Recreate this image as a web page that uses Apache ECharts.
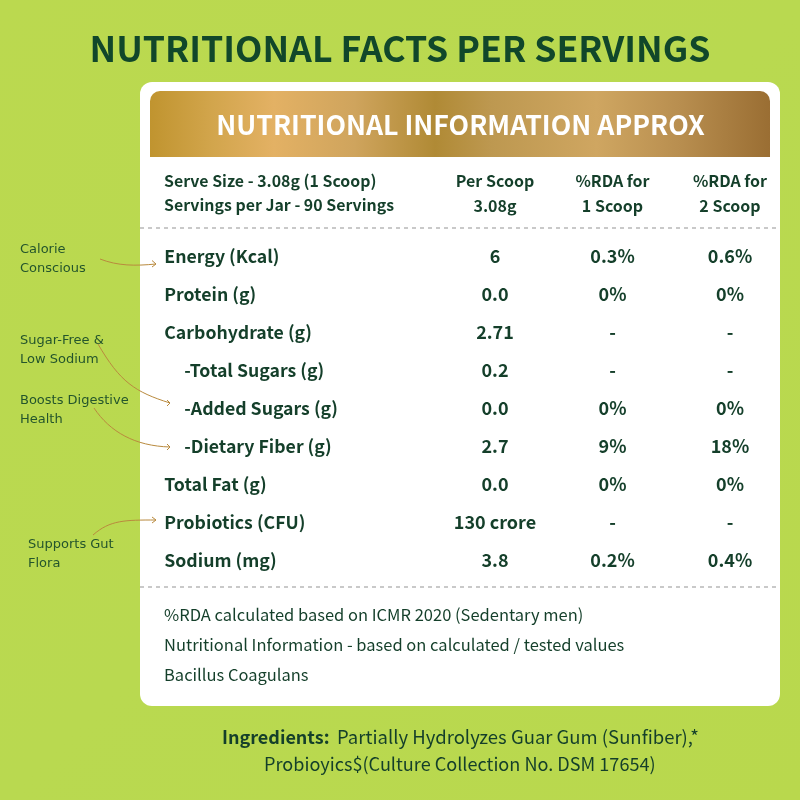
<!DOCTYPE html>
<html><head><meta charset="utf-8">
<style>html,body{margin:0;padding:0;background:#bbd94f}#c{width:800px;height:800px}</style>
<script src="https://cdn.jsdelivr.net/npm/echarts@6/dist/echarts.min.js"></script>
</head><body><div id="c"></div>
<script>
const FONT = '"Noto Sans CJK SC","Noto Sans",sans-serif';
const HAND = '"DejaVu Sans","Noto Sans",sans-serif';
const DARK = '#143f2a';

const titleText = 'NUTRITIONAL FACTS PER SERVINGS';
const bannerText = 'NUTRITIONAL INFORMATION APPROX';
const headerLeft = ['Serve Size - 3.08g (1 Scoop)', 'Servings per Jar - 90 Servings'];
const columns = ['Per Scoop\n3.08g', '%RDA for\n1 Scoop', '%RDA for\n2 Scoop'];
const rows = ['Energy (Kcal)', 'Protein (g)', 'Carbohydrate (g)', '-Total Sugars (g)', '-Added Sugars (g)', '-Dietary Fiber (g)', 'Total Fat (g)', 'Probiotics (CFU)', 'Sodium (mg)'];
const indented = ['-Total Sugars (g)', '-Added Sugars (g)', '-Dietary Fiber (g)'];
const perScoop = ['6', '0.0', '2.71', '0.2', '0.0', '2.7', '0.0', '130 crore', '3.8'];
const rdaOne = ['0.3%', '0%', '-', '-', '0%', '9%', '0%', '-', '0.2%'];
const rdaTwo = ['0.6%', '0%', '-', '-', '0%', '18%', '0%', '-', '0.4%'];
const footnotes = ['%RDA calculated based on ICMR 2020 (Sedentary men)', 'Nutritional Information - based on calculated / tested values', 'Bacillus Coagulans'];
const ingredientLabel = 'Ingredients:';
const ingredientOne = 'Partially Hydrolyzes Guar Gum (Sunfiber),*';
const ingredientTwo = 'Probioyics$(Culture Collection No. DSM 17654)';
const notes = [['Calorie', 'Conscious'], ['Sugar-Free &', 'Low Sodium'], ['Boosts Digestive', 'Health'], ['Supports Gut', 'Flora']];

const chart = echarts.init(document.getElementById('c'), null, {renderer: 'canvas'});

function txt(x, y, text, size, weight, color, align, family) {
  return {type: 'text', x, y, z: 1, style: {text, fontSize: size, fontWeight: weight, fill: color || DARK, fontFamily: family || FONT, align: align || 'left', verticalAlign: 'middle'}};
}
function note(x, y, lines) {
  return lines.map((l, i) => txt(x, y + i * 19, l, 13, 'normal', '#24552c', 'left', HAND));
}
function arrow(c, head) {
  return [
    {type: 'bezierCurve', z: 1, shape: c, style: {stroke: '#b98a3e', lineWidth: 1, fill: null}},
    {type: 'polyline', z: 1, shape: {points: head}, style: {stroke: '#b98a3e', lineWidth: 1, fill: null}}
  ];
}
function cellSeries(values, col) {
  return {
    type: 'scatter', symbolSize: 1, itemStyle: {opacity: 0}, silent: true,
    data: values.map((v, i) => ({value: [columns[col], i, v]})),
    label: {show: true, position: 'inside', opacity: 1, formatter: p => p.value[2], color: DARK, fontFamily: FONT, fontSize: 18, fontWeight: 700}
  };
}

chart.setOption({
  animation: false,
  backgroundColor: {type: 'linear', x: 0, y: 0, x2: 1, y2: 1, colorStops: [{offset: 0, color: '#bbd94f'}, {offset: 0.5, color: '#b9d950'}, {offset: 1, color: '#b9d84d'}]},
  grid: {left: 436.25, top: 237.5, width: 352.5, height: 342, containLabel: false},
  xAxis: {
    type: 'category', position: 'top', data: columns, offset: 0,
    axisLine: {show: false}, axisTick: {show: false}, splitLine: {show: false},
    axisLabel: {color: DARK, fontFamily: FONT, fontSize: 16, fontWeight: 700, lineHeight: 25, margin: 19.5, interval: 0}
  },
  yAxis: {
    type: 'category', inverse: true, data: rows,
    axisLine: {show: false}, axisTick: {show: false}, splitLine: {show: false},
    axisLabel: {
      color: DARK, fontFamily: FONT, fontSize: 17.7, fontWeight: 700, align: 'left', margin: 272, interval: 0,
      formatter: v => indented.includes(v) ? '{i|' + v + '}' : '{n|' + v + '}',
      rich: {
        n: {color: DARK, fontFamily: FONT, fontSize: 17.7, fontWeight: 700},
        i: {color: DARK, fontFamily: FONT, fontSize: 17.7, fontWeight: 700, padding: [0, 0, 0, 20]}
      }
    }
  },
  series: [cellSeries(perScoop, 0), cellSeries(rdaOne, 1), cellSeries(rdaTwo, 2)],
  graphic: [
    {type: 'rect', z: 0, shape: {x: 140, y: 82, width: 640, height: 624, r: 12}, style: {fill: '#fff'}},
    {type: 'rect', z: 0, shape: {x: 150, y: 91, width: 620, height: 66, r: [10, 10, 0, 0]},
      style: {fill: {type: 'linear', x: 0, y: 0, x2: 1, y2: 0, colorStops: [
        {offset: 0, color: '#c0942f'}, {offset: 0.1, color: '#d2a54c'}, {offset: 0.2, color: '#e3b164'}, {offset: 0.33, color: '#cfa45d'},
        {offset: 0.46, color: '#b08a35'}, {offset: 0.55, color: '#bd9850'}, {offset: 0.72, color: '#cfa661'}, {offset: 0.85, color: '#b98f50'}, {offset: 1, color: '#9a6e33'}]}}},
    txt(400, 48, titleText, 35.6, 700, '#11472a', 'center'),
    txt(460.5, 125, bannerText, 26.7, 700, '#fff', 'center'),
    txt(164, 181, headerLeft[0], 15.9, 700),
    txt(164, 205, headerLeft[1], 15.9, 700),
    {type: 'line', z: 1, shape: {x1: 140, y1: 228, x2: 780, y2: 228}, style: {stroke: '#c9c9c9', lineWidth: 2, lineDash: [4, 4]}},
    {type: 'line', z: 1, shape: {x1: 140, y1: 587, x2: 780, y2: 587}, style: {stroke: '#c9c9c9', lineWidth: 2, lineDash: [4, 4]}},
    txt(164, 615, footnotes[0], 16.5, 400),
    txt(164, 645, footnotes[1], 16.5, 400),
    txt(164, 675, footnotes[2], 16.5, 400),
    txt(222, 737, ingredientLabel, 18, 700),
    txt(337, 737, ingredientOne, 18.5, 400),
    txt(264, 764, ingredientTwo, 18.1, 400),
    ...notes.flatMap((n, i) => note([20, 20, 20, 28][i], [250, 341, 401, 545][i], n)),
    ...arrow({x1: 100, y1: 259, cpx1: 118, cpy1: 266, cpx2: 135, cpy2: 266, x2: 156, y2: 264}, [[152, 260.5], [156, 264], [152, 267]]),
    ...arrow({x1: 98, y1: 344, cpx1: 120, cpy1: 382, cpx2: 135, cpy2: 392, x2: 170, y2: 403}, [[167, 400], [170, 403], [167, 406]]),
    ...arrow({x1: 94, y1: 408, cpx1: 110, cpy1: 432, cpx2: 135, cpy2: 446, x2: 170, y2: 447}, [[167, 444], [170, 447], [167, 450]]),
    ...arrow({x1: 93, y1: 535, cpx1: 110, cpy1: 520, cpx2: 125, cpy2: 520, x2: 156, y2: 520}, [[152, 517], [156, 520], [152, 523]])
  ]
});
</script></body></html>
